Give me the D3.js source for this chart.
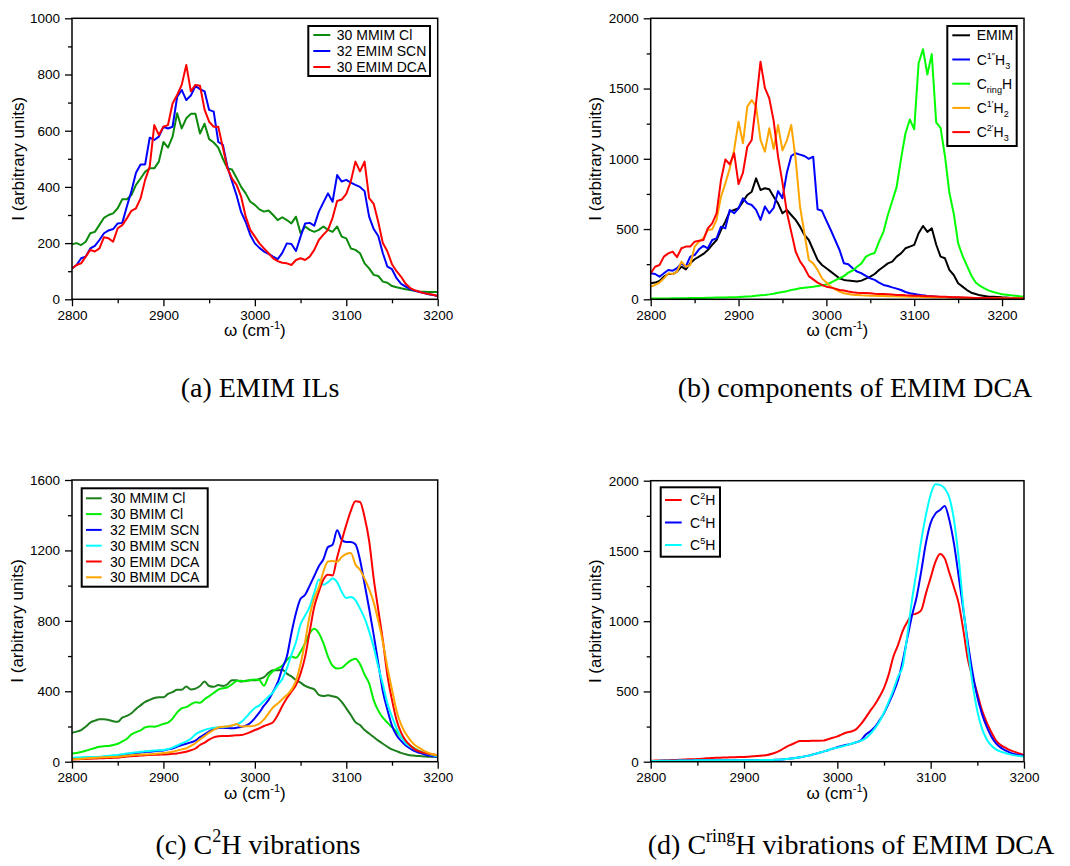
<!DOCTYPE html>
<html>
<head>
<meta charset="utf-8">
<script src="https://cdn.jsdelivr.net/npm/d3@7"></script>
<style>
  body { margin: 0; background: #fff; }
  svg text { font-family: "Liberation Sans", Arial, Helvetica, sans-serif; fill: #000; }
  svg text.caption { font-family: "Liberation Serif", "Times New Roman", serif; }
</style>
</head>
<body>
<svg id="fig" width="1070" height="866"></svg>
<script>
// wavenumber grids (cm^-1), 5 cm^-1 sampling
const waveA = d3.range(2800, 3201, 5);
const waveB = d3.range(2800, 3226, 5);

const xTicks = [2800, 2900, 3000, 3100, 3200];
const yTicksA = [0, 200, 400, 600, 800, 1000];
const yTicksB = [0, 500, 1000, 1500, 2000];
const yTicksC = [0, 400, 800, 1200, 1600];
const yTicksD = [0, 500, 1000, 1500, 2000];

// (a) EMIM ILs
const namesA = ['30 MMIM Cl', '32 EMIM SCN', '30 EMIM DCA'];
const mmimClA = [
  196, 200, 193, 205, 235, 240, 265, 290, 300, 306,
  324, 356, 356, 371, 407, 430, 454, 466, 466, 490,
  560, 540, 579, 662, 608, 644, 660, 660, 590, 625,
  570, 558, 540, 500, 466, 462, 432, 400, 377, 347,
  336, 320, 312, 316, 300, 282, 292, 282, 270, 294,
  235, 259, 247, 240, 247, 259, 247, 240, 259, 223,
  217, 181, 176, 164, 128, 110, 87, 83, 63, 59,
  47, 43, 39, 36, 33, 30, 28, 27, 26, 26,
  26];
const emimScnA = [
  110, 122, 146, 152, 181, 190, 211, 235, 245, 250,
  270, 272, 330, 385, 450, 480, 480, 575, 567, 579,
  614, 608, 614, 720, 745, 709, 725, 759, 748, 740,
  674, 668, 560, 550, 472, 420, 370, 310, 275, 229,
  199, 183, 170, 162, 152, 143, 165, 199, 197, 172,
  223, 270, 272, 262, 312, 345, 377, 347, 442, 419,
  425, 415, 407, 400, 385, 294, 250, 225, 164, 116,
  107, 75, 55, 45, 36, 30, 26, 22, 18, 15,
  12];
const emimDcaA = [
  110, 122, 128, 152, 176, 170, 181, 221, 217, 205,
  253, 264, 288, 315, 324, 359, 425, 472, 620, 585,
  614, 620, 697, 727, 763, 834, 740, 763, 760, 675,
  632, 614, 614, 540, 466, 430, 407, 365, 294, 247,
  223, 199, 181, 164, 146, 136, 130, 128, 122, 140,
  146, 140, 152, 176, 211, 230, 247, 290, 350, 355,
  375, 420, 490, 455, 490, 360, 340, 275, 200, 170,
  125, 100, 80, 55, 40, 32, 27, 22, 19, 16,
  12];

// (b) components of EMIM DCA
const namesB = ['EMIM', 'C^{1″}H_{3}', 'C_{ring}H', 'C^{1′}H_{2}', 'C^{2′}H_{3}'];
const emimB = [
  114, 119, 130, 161, 180, 180, 197, 232, 213, 256,
  285, 304, 323, 351, 387, 422, 493, 553, 624, 636,
  648, 695, 742, 766, 861, 778, 790, 783, 730, 683,
  612, 636, 600, 565, 517, 458, 422, 351, 280, 244,
  221, 197, 173, 149, 138, 133, 130, 126, 133, 147,
  161, 180, 209, 232, 256, 268, 304, 327, 363, 375,
  387, 470, 522, 480, 505, 390, 304, 292, 209, 173,
  114, 90, 66, 47, 38, 28, 24, 19, 19, 17,
  14, 12, 10, 9, 8, 7];
const c1ppH3B = [
  185, 180, 161, 185, 209, 204, 221, 256, 232, 304,
  315, 356, 380, 363, 422, 434, 517, 505, 636, 612,
  648, 719, 683, 671, 636, 565, 660, 612, 650, 770,
  720, 900, 1020, 1040, 1030, 1020, 1000, 1015, 640, 630,
  560, 493, 422, 351, 256, 249, 221, 197, 185, 166,
  149, 138, 119, 102, 95, 85, 76, 66, 52, 43,
  38, 33, 28, 24, 21, 19, 17, 16, 14, 13,
  12, 11, 10, 9, 8, 8, 7, 7, 6, 6,
  5, 5, 5, 4, 4, 4];
const cringHB = [
  5, 5, 5, 6, 6, 7, 7, 8, 8, 9,
  9, 10, 10, 11, 11, 12, 12, 13, 14, 15,
  16, 18, 20, 22, 25, 28, 31, 35, 40, 47,
  52, 58, 66, 72, 78, 82, 86, 90, 95, 100,
  105, 118, 135, 150, 165, 190, 205, 232, 256, 304,
  320, 330, 410, 480, 600, 700, 800, 1000, 1180, 1280,
  1210, 1680, 1780, 1600, 1745, 1260, 1220, 1020, 760, 610,
  400, 310, 240, 170, 120, 95, 78, 62, 52, 44,
  36, 32, 28, 25, 22, 20];
const c1pH2B = [
  90, 102, 119, 149, 185, 180, 197, 268, 232, 244,
  375, 410, 434, 493, 498, 565, 730, 825, 932, 1063,
  1264, 1110, 1371, 1418, 1371, 1134, 1051, 1217, 1070, 1240,
  1060, 1130, 1240, 1000, 659, 470, 280, 256, 209, 149,
  119, 90, 71, 55, 43, 38, 33, 31, 28, 27,
  26, 25, 24, 23, 22, 22, 21, 20, 20, 19,
  19, 18, 17, 16, 15, 15, 14, 14, 13, 13,
  12, 11, 10, 10, 9, 9, 8, 8, 8, 7,
  7, 7, 7, 7, 7, 7];
const c2pH3B = [
  185, 232, 244, 304, 327, 339, 300, 363, 375, 375,
  410, 417, 422, 505, 541, 612, 849, 995, 960, 1040,
  820, 900, 1086, 1134, 1400, 1691, 1505, 1430, 1270, 1015,
  830, 620, 480, 340, 270, 225, 165, 142, 119, 102,
  90, 83, 76, 66, 62, 55, 50, 47, 45, 44,
  43, 40, 38, 37, 36, 34, 31, 30, 28, 27,
  26, 25, 24, 22, 21, 20, 19, 18, 17, 15,
  14, 13, 12, 11, 10, 10, 9, 9, 8, 8,
  7, 6, 6, 5, 5, 5];

// (c) C2H vibrations
const namesC = ['30 MMIM Cl', '30 BMIM Cl', '32 EMIM SCN', '30 BMIM SCN', '30 EMIM DCA', '30 BMIM DCA'];
const mmimClC = [
  165, 171, 180, 199, 222, 233, 241, 241, 237, 230,
  227, 250, 260, 275, 300, 320, 340, 351, 362, 366,
  366, 385, 395, 408, 408, 427, 410, 415, 430, 455,
  430, 425, 435, 430, 440, 462, 462, 455, 460, 462,
  462, 470, 480, 505, 520, 520, 522, 500, 485, 464,
  449, 430, 420, 411, 380, 373, 377, 372, 365, 340,
  303, 265, 225, 208, 180, 160, 140, 120, 102, 85,
  70, 60, 50, 42, 36, 34, 32, 30, 28, 28,
  28];
const bmimClC = [
  47, 50, 55, 62, 70, 78, 85, 88, 89, 95,
  102, 115, 130, 155, 168, 178, 195, 200, 199, 205,
  215, 222, 245, 280, 303, 310, 325, 337, 335, 355,
  372, 390, 410, 417, 423, 440, 458, 460, 457, 464,
  467, 463, 432, 485, 515, 530, 545, 578, 597, 590,
  625, 673, 730, 755, 730, 673, 597, 545, 530, 533,
  555, 575, 585, 555, 495, 445, 350, 290, 250, 222,
  195, 170, 140, 112, 92, 75, 60, 50, 42, 37,
  32];
const emimScnC = [
  19, 20, 21, 22, 23, 23, 23, 26, 29, 31,
  32, 37, 42, 46, 49, 52, 55, 57, 60, 62,
  63, 70, 75, 85, 95, 102, 110, 120, 140, 155,
  172, 185, 191, 193, 191, 190, 193, 197, 205, 220,
  248, 280, 318, 351, 398, 450, 530, 597, 730, 845,
  925, 948, 1000, 1055, 1110, 1150, 1219, 1232, 1314, 1261,
  1248, 1248, 1235, 1147, 1010, 870, 720, 560, 400, 295,
  205, 150, 118, 92, 75, 60, 50, 42, 35, 31,
  28];
const bmimScnC = [
  23, 24, 25, 26, 27, 27, 28, 31, 34, 36,
  38, 42, 46, 50, 53, 56, 59, 61, 63, 65,
  66, 72, 80, 92, 104, 115, 130, 155, 170, 180,
  188, 193, 195, 197, 200, 206, 212, 225, 250, 280,
  305, 320, 345, 370, 395, 435, 470, 530, 607, 680,
  780, 830, 881, 960, 1035, 1005, 1020, 1040, 1020, 965,
  930, 935, 918, 870, 815, 740, 650, 540, 440, 330,
  256, 190, 140, 105, 85, 70, 60, 52, 43, 37,
  32];
const emimDcaC = [
  13, 14, 15, 16, 17, 18, 19, 20, 21, 22,
  23, 26, 29, 31, 33, 35, 37, 38, 39, 40,
  41, 42, 45, 47, 52, 57, 65, 75, 95, 108,
  125, 138, 144, 146, 146, 148, 150, 151, 158, 168,
  180, 190, 203, 212, 225, 265, 316, 360, 398, 435,
  500, 597, 740, 880, 965, 1035, 1062, 1058, 1160, 1255,
  1345, 1425, 1479, 1475, 1390, 1255, 1040, 863, 690, 490,
  351, 237, 165, 120, 92, 70, 58, 50, 45, 41,
  38];
const bmimDcaC = [
  13, 15, 17, 19, 21, 22, 24, 25, 26, 27,
  28, 31, 34, 37, 39, 40, 41, 42, 44, 46,
  49, 52, 57, 63, 70, 76, 90, 105, 127, 145,
  165, 181, 194, 199, 200, 206, 214, 200, 201, 201,
  205, 216, 240, 275, 309, 330, 355, 379, 408, 460,
  555, 682, 830, 930, 990, 1080, 1137, 1140, 1135, 1163,
  1180, 1185, 1120, 1090, 1040, 980, 905, 800, 680, 535,
  410, 290, 210, 160, 123, 95, 78, 62, 50, 42,
  35];

// (d) ring C-H vibrations of EMIM DCA
const namesD = ['C^{2}H', 'C^{4}H', 'C^{5}H'];
const c2HD = [
  7, 8, 9, 10, 11, 12, 14, 15, 17, 18,
  19, 21, 24, 26, 28, 29, 30, 31, 32, 33,
  34, 36, 38, 41, 44, 48, 56, 68, 85, 104,
  120, 135, 147, 148, 148, 149, 149, 150, 160, 170,
  180, 195, 208, 215, 230, 265, 310, 360, 405, 460,
  525, 620, 747, 830, 930, 995, 1045, 1055, 1080, 1200,
  1310, 1420, 1478, 1447, 1345, 1240, 1127, 937, 723, 600,
  485, 365, 280, 210, 150, 118, 100, 82, 70, 58,
  47];
const c4HD = [
  5, 5, 6, 6, 7, 7, 8, 8, 9, 9,
  10, 10, 10, 10, 10, 11, 11, 11, 11, 11,
  11, 11, 11, 11, 12, 12, 12, 14, 16, 19,
  22, 26, 32, 38, 45, 54, 62, 72, 82, 93,
  103, 112, 120, 127, 138, 150, 190, 215, 245, 292,
  345, 415, 490, 580, 715, 880, 1040, 1174, 1360, 1560,
  1700, 1765, 1791, 1820, 1720, 1550, 1320, 1080, 840, 630,
  460, 340, 249, 180, 130, 100, 80, 65, 53, 46,
  40];
const c5HD = [
  5, 5, 6, 6, 7, 7, 8, 8, 9, 9,
  10, 10, 10, 10, 10, 11, 11, 11, 11, 11,
  11, 11, 11, 11, 12, 12, 12, 14, 16, 19,
  22, 26, 32, 38, 45, 54, 62, 72, 82, 93,
  100, 108, 118, 128, 138, 148, 165, 195, 235, 285,
  350, 427, 510, 605, 680, 900, 1150, 1360, 1577, 1760,
  1900, 1975, 1970, 1945, 1880, 1720, 1450, 1100, 800, 550,
  360, 235, 160, 115, 88, 72, 62, 52, 45, 40,
  36];

const svg = d3.select('#fig');

// draws a string with ^{..} superscripts and _{..} subscripts as tspans
function richText(sel, str, size) {
  const parts = str.match(/\^\{[^}]*\}|_\{[^}]*\}|[^^_]+/g);
  let shift = 0;
  parts.forEach(function (p) {
    let target = 0, txt = p, fs = size;
    if (p[0] === '^') { target = -size * 0.42; txt = p.slice(2, -1); fs = size * 0.65; }
    else if (p[0] === '_') { target = size * 0.3; txt = p.slice(2, -1); fs = size * 0.65; }
    sel.append('tspan').attr('dy', target - shift).attr('font-size', fs).text(txt);
    shift = target;
  });
}

const panels = [
  {
    box: [72, 18.3, 437.7, 299.3], xDom: [2800, 3200], yDom: [0, 1000], yTicks: yTicksA,
    wave: waveA, curve: d3.curveLinear,
    series: [
      { name: namesA[0], values: mmimClA, color: '#0b8a0b' },
      { name: namesA[1], values: emimScnA, color: '#0000ff' },
      { name: namesA[2], values: emimDcaA, color: '#ff0000' }
    ],
    legend: { x: 308.3, y: 26, w: 121.7, h: 50, row0: 9, step: 16, l0: 5, l1: 22, tx: 28.5 },
    caption: '(a) EMIM ILs', capX: 260, capY: 397, yTitleX: 18
  },
  {
    box: [650.7, 18.3, 1024, 299.3], xDom: [2800, 3225], yDom: [0, 2000], yTicks: yTicksB,
    wave: waveB, curve: d3.curveLinear,
    series: [
      { name: namesB[0], values: emimB, color: '#000000' },
      { name: namesB[1], values: c1ppH3B, color: '#0000ff' },
      { name: namesB[2], values: cringHB, color: '#00ff00' },
      { name: namesB[3], values: c1pH2B, color: '#ffa500' },
      { name: namesB[4], values: c2pH3B, color: '#ff0000' }
    ],
    legend: { x: 947.3, y: 26, w: 69.4, h: 120, row0: 9.3, step: 24.2, l0: 5, l1: 22.7, tx: 29.4 },
    caption: '(b) components of EMIM DCA', capX: 855, capY: 397, yTitleX: 595
  },
  {
    box: [72, 480, 437.7, 761.7], xDom: [2800, 3200], yDom: [0, 1600], yTicks: yTicksC,
    wave: waveA, curve: d3.curveMonotoneX,
    series: [
      { name: namesC[0], values: mmimClC, color: '#1c7f1c' },
      { name: namesC[1], values: bmimClC, color: '#00ee00' },
      { name: namesC[2], values: emimScnC, color: '#0000ff' },
      { name: namesC[3], values: bmimScnC, color: '#00ffff' },
      { name: namesC[4], values: emimDcaC, color: '#ff0000' },
      { name: namesC[5], values: bmimDcaC, color: '#ffa500' }
    ],
    legend: { x: 81.7, y: 488.3, w: 126, h: 98.4, row0: 10, step: 15.8, l0: 4.3, l1: 20, tx: 28.3 },
    caption: '(c) C^{2}H vibrations', capX: 258, capY: 854, yTitleX: 17
  },
  {
    box: [650.7, 480.7, 1024, 761.7], xDom: [2800, 3200], yDom: [0, 2000], yTicks: yTicksD,
    wave: waveA, curve: d3.curveMonotoneX,
    series: [
      { name: namesD[0], values: c2HD, color: '#ff0000' },
      { name: namesD[1], values: c4HD, color: '#0000ff' },
      { name: namesD[2], values: c5HD, color: '#00ffff' }
    ],
    legend: { x: 660.7, y: 487.3, w: 59.3, h: 69.4, row0: 12.7, step: 22.5, l0: 4.3, l1: 21, tx: 29.3 },
    caption: '(d) C^{ring}H vibrations of EMIM DCA', capX: 851, capY: 854, yTitleX: 595
  }
];

panels.forEach(function (p, pi) {
  const [x0, y0, x1, y1] = p.box;
  const x = d3.scaleLinear().domain(p.xDom).range([x0, x1]);
  const y = d3.scaleLinear().domain(p.yDom).range([y1, y0]);
  const g = svg.append('g');

  // minor ticks halfway between the labelled ones
  const xMinor = xTicks.slice(1).map((t, i) => (t + xTicks[i]) / 2)
    .concat([xTicks[xTicks.length - 1] + 50]).filter(t => t < p.xDom[1]);
  const yMinor = p.yTicks.slice(1).map((t, i) => (t + p.yTicks[i]) / 2);

  g.append('g')
    .attr('transform', 'translate(0,' + y1 + ')')
    .call(d3.axisBottom(x).tickValues(xTicks).tickSize(7).tickPadding(4).tickFormat(d3.format('d')))
    .call(a => a.select('.domain').remove())
    .call(a => a.selectAll('line').attr('stroke-width', 1.3))
    .call(a => a.selectAll('text').attr('font-size', 13.5).attr('font-family', null));
  g.append('g')
    .attr('transform', 'translate(0,' + y1 + ')')
    .call(d3.axisBottom(x).tickValues(xMinor).tickSize(4).tickFormat(''))
    .call(a => a.select('.domain').remove())
    .call(a => a.selectAll('line').attr('stroke-width', 1.3));
  g.append('g')
    .attr('transform', 'translate(' + x0 + ',0)')
    .call(d3.axisLeft(y).tickValues(p.yTicks).tickSize(7).tickPadding(5).tickFormat(d3.format('d')))
    .call(a => a.select('.domain').remove())
    .call(a => a.selectAll('line').attr('stroke-width', 1.3))
    .call(a => a.selectAll('text').attr('font-size', 13.5).attr('font-family', null));
  g.append('g')
    .attr('transform', 'translate(' + x0 + ',0)')
    .call(d3.axisLeft(y).tickValues(yMinor).tickSize(4).tickFormat(''))
    .call(a => a.select('.domain').remove())
    .call(a => a.selectAll('line').attr('stroke-width', 1.3));

  const clipId = 'clip' + pi;
  svg.append('clipPath').attr('id', clipId)
    .append('rect').attr('x', x0).attr('y', y0).attr('width', x1 - x0).attr('height', y1 - y0);

  const line = d3.line()
    .x((d, i) => x(p.wave[i]))
    .y(d => y(d))
    .curve(p.curve);

  p.series.forEach(function (s) {
    if (s.values.length !== p.wave.length) throw new Error(s.name + ' has ' + s.values.length + ' points');
    g.append('path')
      .attr('clip-path', 'url(#' + clipId + ')')
      .attr('d', line(s.values))
      .attr('fill', 'none')
      .attr('stroke', s.color)
      .attr('stroke-width', 2)
      .attr('stroke-linejoin', 'round');
  });

  // frame
  g.append('rect')
    .attr('x', x0).attr('y', y0).attr('width', x1 - x0).attr('height', y1 - y0)
    .attr('fill', 'none').attr('stroke', '#000').attr('stroke-width', 1.5);

  // axis titles
  g.append('text')
    .attr('transform', 'translate(' + p.yTitleX + ',' + (y0 + y1) / 2 + ') rotate(-90)')
    .attr('text-anchor', 'middle').attr('dominant-baseline', 'central')
    .attr('font-size', 17)
    .text('I (arbitrary units)');
  const xt = g.append('text')
    .attr('x', (x0 + x1) / 2).attr('y', y1 + 37)
    .attr('text-anchor', 'middle');
  richText(xt, 'ω (cm^{-1})', 17);

  // legend
  const L = p.legend;
  const lg = g.append('g');
  lg.append('rect')
    .attr('x', L.x).attr('y', L.y).attr('width', L.w).attr('height', L.h)
    .attr('fill', '#fff').attr('stroke', '#000').attr('stroke-width', 2);
  p.series.forEach(function (s, i) {
    const ry = L.y + L.row0 + i * L.step;
    lg.append('line')
      .attr('x1', L.x + L.l0).attr('x2', L.x + L.l1)
      .attr('y1', ry).attr('y2', ry)
      .attr('stroke', s.color).attr('stroke-width', 2);
    const t = lg.append('text').attr('x', L.x + L.tx).attr('y', ry + 5).attr('font-size', 14);
    richText(t, s.name, 14);
  });

  // caption
  const cap = svg.append('text')
    .attr('class', 'caption')
    .attr('x', p.capX).attr('y', p.capY)
    .attr('text-anchor', 'middle');
  richText(cap, p.caption, 28);
});
</script>
</body>
</html>
